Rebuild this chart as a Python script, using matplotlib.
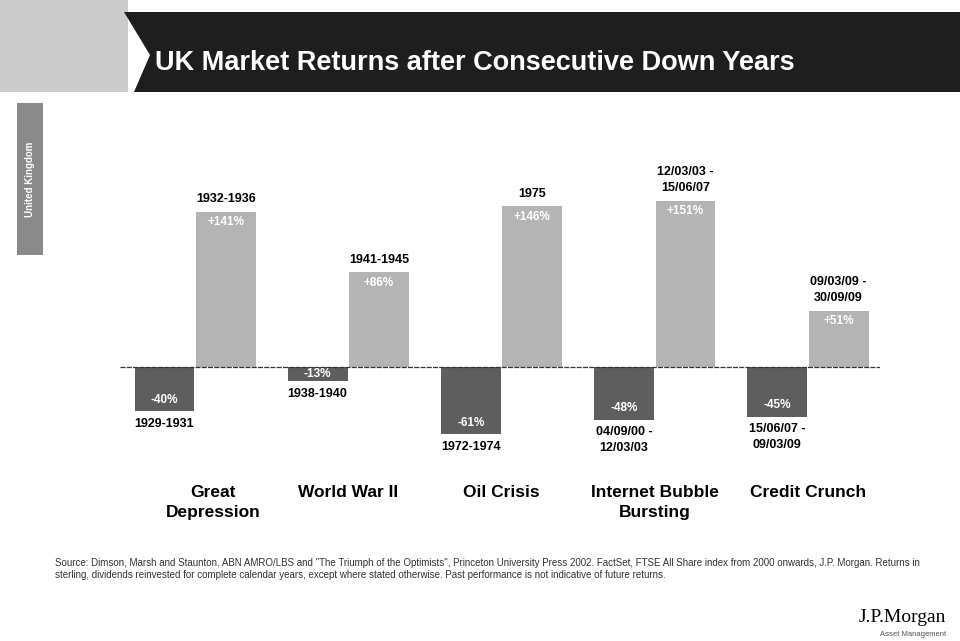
import matplotlib
matplotlib.use("Agg")
import matplotlib.pyplot as plt
from matplotlib.patches import Polygon, Rectangle

plt.rcParams["font.family"] = ["Liberation Sans", "DejaVu Sans"]

# episodes: drawdown period followed by the recovery period
episodes = ["Great\nDepression", "World War II", "Oil Crisis",
            "Internet Bubble\nBursting", "Credit Crunch"]
down_periods = ["1929-1931", "1938-1940", "1972-1974",
                "04/09/00 -\n12/03/03", "15/06/07 -\n09/03/09"]
up_periods = ["1932-1936", "1941-1945", "1975",
              "12/03/03 -\n15/06/07", "09/03/09 -\n30/09/09"]
down_returns = [-40, -13, -61, -48, -45]
up_returns = [141, 86, 146, 151, 51]

footnote = ("Source: Dimson, Marsh and Staunton, ABN AMRO/LBS and \"The Triumph of the Optimists\", "
            "Princeton University Press 2002. FactSet, FTSE All Share index from 2000 onwards, "
            "J.P. Morgan. Returns in\nsterling, dividends reinvested for complete calendar years, "
            "except where stated otherwise. Past performance is not indicative of future returns.")

W, H = 960, 641
fig = plt.figure(figsize=(W / 100, H / 100), dpi=100)


def px(x, y):
    return x / W, 1 - y / H


# header: grey block, dark banner with chevron edge
fig.patches.append(Rectangle(px(0, 92), 128 / W, 92 / H, transform=fig.transFigure,
                             facecolor="#cbcbcb", edgecolor="none"))
banner = [px(124, 12), px(960, 12), px(960, 92), px(134, 92), px(150, 55)]
fig.patches.append(Polygon(banner, closed=True, transform=fig.transFigure,
                           facecolor="#1e1e1e", edgecolor="none"))
fig.text(*px(155, 63), "UK Market Returns after Consecutive Down Years",
         color="white", fontsize=19.5, fontweight="bold", va="center", ha="left")

# side tab
fig.patches.append(Rectangle(px(17, 255), 26 / W, 152 / H, transform=fig.transFigure,
                             facecolor="#8a8a8a", edgecolor="none"))
fig.text(*px(30, 179), "United Kingdom", color="white", fontsize=7, fontweight="bold",
         rotation=90, ha="center", va="center")

# bar chart
left, right, top, bottom = 120, 880, 150, 460
ax = fig.add_axes([left / W, 1 - bottom / H, (right - left) / W, (bottom - top) / H])
ax.set_xlim(-0.49, 4.47)
ax.set_ylim(-(bottom - 367) / 1.1, (367 - top) / 1.1)
ax.axis("off")

bw = 0.39
off = 0.2
for i in range(len(episodes)):
    d, u = down_returns[i], up_returns[i]
    ax.bar(i - off, d, width=bw, color="#5e5e5e", edgecolor="none")
    ax.bar(i + off, u, width=bw, color="#b4b4b4", edgecolor="none")

    # value labels inside the bars
    if abs(d) < 20:
        ax.text(i - off, d / 2, f"{d}%", color="white", fontsize=8.5, fontweight="bold",
                ha="center", va="center")
    else:
        ax.text(i - off, d + 5, f"{d}%", color="white", fontsize=8.5, fontweight="bold",
                ha="center", va="bottom")
    ax.text(i + off, u - 4, f"+{u}%", color="white", fontsize=8.5, fontweight="bold",
            ha="center", va="top")

    # period labels
    ax.text(i - off, d - 6, down_periods[i], fontsize=9, fontweight="bold",
            ha="center", va="top", linespacing=1.45)
    ax.text(i + off, u + 6, up_periods[i], fontsize=9, fontweight="bold",
            ha="center", va="bottom", linespacing=1.45)

ax.axhline(0, color="#333333", linewidth=0.9, linestyle=(0, (4, 1)))

# episode names under the chart (first one sits a little right of its pair)
for i, name in enumerate(episodes):
    shift = 0.12 if i == 0 else 0.0
    x_fig = (left + (i + shift + 0.49) / 4.96 * (right - left)) / W
    fig.text(x_fig, 1 - 485 / H, name, fontsize=12.5, fontweight="bold",
             ha="center", va="top", linespacing=1.4)

fig.text(*px(55, 569), footnote, fontsize=7.0, ha="left", va="center", color="#333333",
         linespacing=1.2)

fig.text(*px(946, 617), "J.P.Morgan", fontsize=14, family=["Liberation Serif"],
         ha="right", va="center")
fig.text(*px(946, 634), "Asset Management", fontsize=5.5, color="#555555",
         ha="right", va="center")

fig.savefig("out.png", dpi=100, facecolor="white")
